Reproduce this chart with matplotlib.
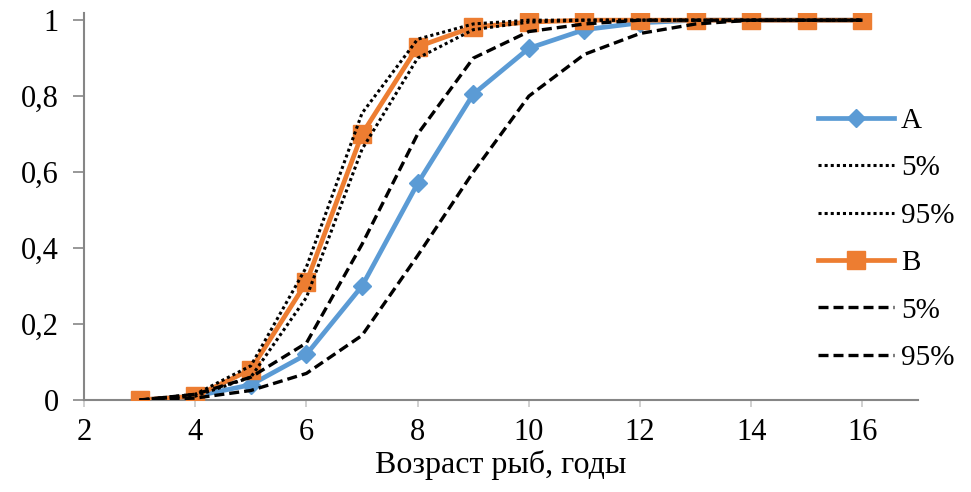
import numpy as np
import matplotlib
matplotlib.use("Agg")
import matplotlib.pyplot as plt

# ----------------------------
# Data
# ----------------------------

age = [3, 4, 5, 6, 7, 8, 9, 10, 11, 12, 13, 14, 15, 16]

a_mean = [0.0, 0.01, 0.04, 0.12, 0.30, 0.57, 0.805, 0.926, 0.975, 0.993, 1.0, 1.0, 1.0, 1.0]
a_lo = [0.0, 0.015, 0.09, 0.35, 0.755, 0.95, 0.99, 1.0, 1.0, 1.0, 1.0, 1.0, 1.0, 1.0]
a_hi = [0.0, 0.01, 0.06, 0.27, 0.66, 0.90, 0.975, 0.995, 1.0, 1.0, 1.0, 1.0, 1.0, 1.0]

b_mean = [0.0, 0.01, 0.08, 0.31, 0.70, 0.93, 0.982, 0.995, 1.0, 1.0, 1.0, 1.0, 1.0, 1.0]
b_lo = [0.0, 0.015, 0.06, 0.15, 0.41, 0.70, 0.90, 0.97, 0.99, 1.0, 1.0, 1.0, 1.0, 1.0]
b_hi = [0.0, 0.005, 0.025, 0.07, 0.17, 0.38, 0.60, 0.80, 0.91, 0.965, 0.99, 1.0, 1.0, 1.0]

x_ticks = [2, 4, 6, 8, 10, 12, 14, 16]
y_ticks = [0, 0.2, 0.4, 0.6, 0.8, 1]
y_labels = ["0", "0,2", "0,4", "0,6", "0,8", "1"]

# ----------------------------
# Plot
# ----------------------------

plt.rcParams["font.family"] = ["Liberation Serif", "DejaVu Serif"]

fig = plt.figure(figsize=(9.71, 4.92), dpi=100)
ax = fig.add_axes([0.0865, 0.187, 0.859, 0.772 * 1.02])

blue = "#5B9BD5"
orange = "#ED7D31"
axis_c = "#868686"

ax.plot(age, a_mean, color=blue, lw=3.4, marker="D", ms=9, label="A", zorder=3)
ax.plot(age, a_lo, color="black", lw=2.2, ls=(0, (1, 1)), label="5%", zorder=4)
ax.plot(age, a_hi, color="black", lw=2.2, ls=(0, (1, 1)), label="95%", zorder=4)
ax.plot(age, b_mean, color=orange, lw=3.4, marker="s", ms=13, label="B", zorder=3)
ax.plot(age, b_lo, color="black", lw=2.4, ls=(0, (3, 1.5)), label="5%", zorder=4)
ax.plot(age, b_hi, color="black", lw=2.4, ls=(0, (3, 1.5)), label="95%", zorder=4)

ax.set_xlim(2, 17)
ax.set_ylim(0, 1.02)
ax.set_xticks(x_ticks)
ax.set_yticks(y_ticks)
ax.set_yticklabels(y_labels)

for s in ["top", "right"]:
    ax.spines[s].set_visible(False)
ax.spines["left"].set_color(axis_c)
ax.spines["bottom"].set_color(axis_c)
ax.spines["left"].set_linewidth(1.5)
ax.spines["bottom"].set_linewidth(1.5)

ax.tick_params(axis="y", direction="out", length=8, width=1.2, color=axis_c,
               labelsize=22, pad=10)
ax.tick_params(axis="x", direction="out", length=5, width=1.2, color="#c8c8c8",
               labelsize=22, pad=8)

ax.set_xlabel("Возраст рыб, годы", fontsize=23, labelpad=2)

leg = ax.legend(loc="center left", bbox_to_anchor=(0.88, 0.415), frameon=False,
                fontsize=21, handlelength=2.6, handletextpad=0.25,
                labelspacing=0.72, borderaxespad=0, borderpad=0)

plt.savefig("out.png", dpi=100)
plt.close()
